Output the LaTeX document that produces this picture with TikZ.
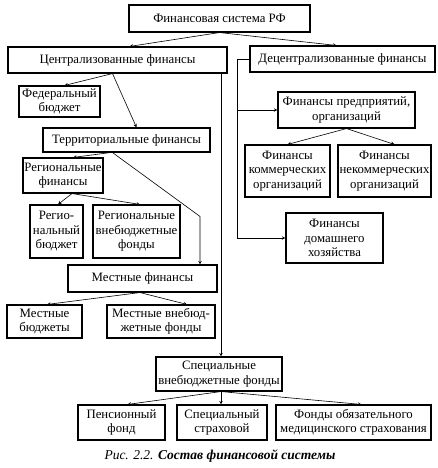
\documentclass[tikz,border=0pt]{standalone}
\usepackage{fontspec}
\setmainfont{Liberation Serif}
\usetikzlibrary{calc}

\begin{document}
\begin{tikzpicture}[x=1pt,y=-1pt,font=\fontsize{12.8}{14.5}\selectfont,
  box/.style={draw,line width=1.1pt,align=center,inner sep=0pt},
  arr/.style={->,>=stealth,line width=0.6pt}]

\useasboundingbox (0,0) rectangle (438,468);

% top
\node[box,minimum width=181,minimum height=27] (sys) at (219.5,18.5) {Финансовая система РФ};
\node[box,minimum width=219,minimum height=26] (centr) at (117.5,60) {Централизованные финансы};
\node[box,minimum width=185,minimum height=26] (decentr) at (342.5,59) {Децентрализованные финансы};

% centralized side
\node[box,minimum width=81,minimum height=31] (fed) at (59.5,101.5) {Федеральный\\бюджет};
\node[box,minimum width=167,minimum height=24] (terr) at (126.5,140) {Территориальные финансы};
\node[box,minimum width=80,minimum height=35] (reg) at (63,175.5) {Региональные\\финансы};
\node[box,minimum width=53,minimum height=53] (regbud) at (56.5,231.5) {Регио-\\нальный\\бюджет};
\node[box,minimum width=87,minimum height=53] (regfund) at (136.5,231.5) {Региональные\\внебюджетные\\фонды};
\node[box,minimum width=149,minimum height=27] (loc) at (142.5,278.5) {Местные финансы};
\node[box,minimum width=75,minimum height=33] (locbud) at (44.5,321.5) {Местные\\бюджеты};
\node[box,minimum width=108,minimum height=33] (locfund) at (161,321.5) {Местные внебюд-\\жетные фонды};

% decentralized side
\node[box,minimum width=137,minimum height=36] (ent) at (346.5,110) {Финансы предприятий,\\организаций};
\node[box,minimum width=85,minimum height=52] (comm) at (287.5,171) {Финансы\\коммерческих\\организаций};
\node[box,minimum width=93,minimum height=52] (noncomm) at (384.5,171) {Финансы\\некоммерческих\\организаций};
\node[box,minimum width=97,minimum height=50] (house) at (334.5,238) {Финансы\\домашнего\\хозяйства};

% special funds
\node[box,minimum width=126,minimum height=34] (spec) at (219,374) {Специальные\\внебюджетные фонды};
\node[box,minimum width=87,minimum height=35] (pens) at (121.5,422.5) {Пенсионный\\фонд};
\node[box,minimum width=90,minimum height=35] (ins) at (222,422.5) {Специальный\\страховой};
\node[box,minimum width=155,minimum height=35] (oms) at (353.5,422.5) {Фонды обязательного\\медицинского страхования};

\node (cap) at (220,456) {\fontsize{13.5}{15}\selectfont\itshape Рис. 2.2. \bfseries Состав финансовой системы};

\coordinate (vx) at (221,0);
\coordinate (dl) at ([xshift=-12]decentr.west);

\draw[arr] (sys.south) -- ([xshift=12]centr.north);
\draw[arr] (sys.south) -- ([xshift=-6]decentr.north);
\draw[arr] ([xshift=-5]centr.south) -- ([xshift=5]fed.north);
\draw[arr] ([xshift=-5]centr.south) -- ([xshift=10]terr.north);
\draw[arr] ([xshift=-16]terr.south) -- ([xshift=10]reg.north);
\draw[arr] ([xshift=-14]terr.south) -- ($(loc.north)+(57.5,-48)$) -- ([xshift=57.5]loc.north);
\draw[arr] ([xshift=9]reg.south) -- ([xshift=1.5]regbud.north);
\draw[arr] ([xshift=9]reg.south) -- ([xshift=3.5]regfund.north);
\draw[arr] ([xshift=-2.5]loc.south) -- ([xshift=2.5]locbud.north);
\draw[arr] ([xshift=-2.5]loc.south) -- ([xshift=26]locfund.north);
\draw[arr] (centr.south -| vx) -- (spec.north -| vx);

\draw[arr] (decentr.west) -- (dl) |- (house.west);
\draw[arr] (dl) |- (ent.west);
\draw[arr] (ent.south) -- (comm.north);
\draw[arr] (ent.south) -- ([xshift=10]noncomm.north);

\draw[arr] (spec.south -| vx) -- ([xshift=6]pens.north);
\draw[arr] (spec.south -| vx) -- (ins.north -| vx);
\draw[arr] (spec.south -| vx) -- ([xshift=8]oms.north);

\end{tikzpicture}
\end{document}
